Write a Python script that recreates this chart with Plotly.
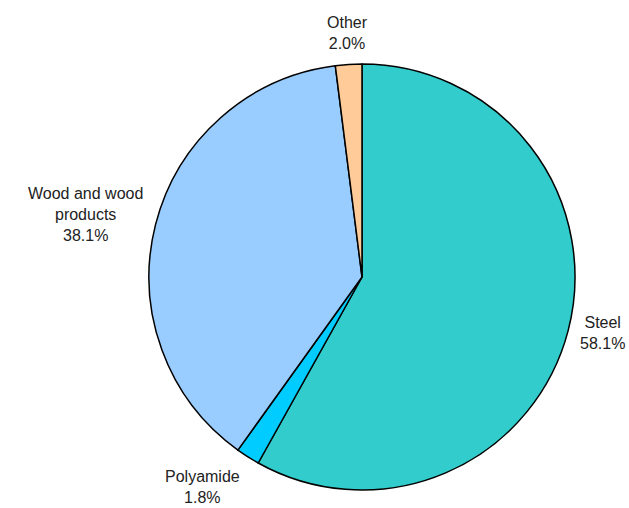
import math
import plotly.graph_objects as go

labels = ["Steel", "Polyamide", "Wood and wood<br>products", "Other"]
values = [58.1, 1.8, 38.1, 2.0]
colors = ["#33CCCC", "#00CCFF", "#99CCFF", "#FFCC99"]

fig = go.Figure(go.Pie(
    labels=labels,
    values=values,
    sort=False,
    direction="clockwise",
    rotation=0,
    marker=dict(colors=colors, line=dict(color="black", width=1.5)),
    textinfo="none",
    hoverinfo="label+percent",
    showlegend=False,
    domain=dict(x=[0, 1], y=[0, 1]),
))

# Data labels placed just outside each slice at its mid-angle
total = sum(values)
cum = 0.0
label_r = 0.5 * 1.05
for lab, v in zip(labels, values):
    mid = (cum + v / 2) / total * 2 * math.pi
    cum += v
    s, c = math.sin(mid), math.cos(mid)
    xa = "left" if s > 0.3 else ("right" if s < -0.3 else "center")
    ya = "bottom" if c > 0.7 else ("top" if c < -0.7 else "middle")
    fig.add_annotation(
        x=0.5 + label_r * s, y=0.5 + label_r * c,
        xref="paper", yref="paper",
        text=f"{lab}<br>{v / total * 100:.1f}%",
        showarrow=False, xanchor=xa, yanchor=ya, align="center",
        yshift=8 if ya == "middle" and c > 0 else 0,
        font=dict(family="Liberation Sans, Arial, sans-serif", size=16, color="#222222"),
    )

fig.update_layout(
    width=629, height=508,
    margin=dict(l=149, r=54, t=64, b=18),
    paper_bgcolor="white",
    plot_bgcolor="white",
)
fig.write_html(
    "out.html",
    config={"displayModeBar": False},
    post_script="document.body.style.margin='0';document.body.style.overflow='hidden';",
)
